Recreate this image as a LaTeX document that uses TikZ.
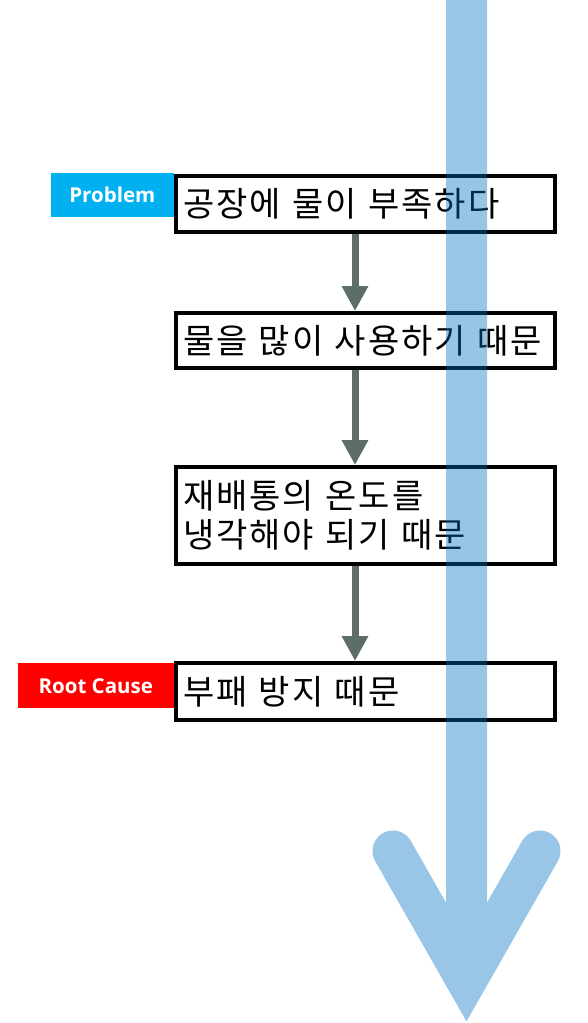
\documentclass[tikz,border=0pt]{standalone}
\usepackage{fontspec}
\setmainfont{Open Sans}
\newfontfamily\kr{Noto Sans CJK KR}[LetterSpace=6]
\usetikzlibrary{arrows.meta}
\definecolor{bigblue}{RGB}{0,112,192}
\definecolor{garr}{RGB}{93,110,105}
\definecolor{probc}{RGB}{0,176,240}
\definecolor{rootc}{RGB}{255,0,0}
\tikzset{
  stepbox/.style={draw=black, line width=4pt, fill=white, minimum width=379pt, inner xsep=7pt, text width=365pt, align=left, font=\kr\fontsize{34}{39}\selectfont},
  tag/.style={fill=#1, text=white, font=\bfseries\fontsize{20.5}{24}\selectfont, inner sep=0pt, anchor=north east},
  garrow/.style={draw=garr, line width=7pt, -{Triangle[length=25pt,width=25pt]}},
}
\begin{document}
\begin{tikzpicture}[x=1pt,y=-1pt]
\useasboundingbox (0,0) rectangle (588,1023);
% tags
\node[tag=probc, minimum width=123pt, minimum height=44pt] (p) at (174,173) {Problem};
\node[tag=rootc, minimum width=156pt, minimum height=45pt] (r) at (174,663) {Root Cause};
% boxes
\node[stepbox, minimum height=56pt] (b1) at (365.5,204) {공장에 물이 부족하다};
\node[stepbox, minimum height=55pt] (b2) at (365.5,340.5) {물을 많이 사용하기 때문};
\node[stepbox, minimum height=97pt] (b3) at (365.5,515.5) {재배통의 온도를\\냉각해야 되기 때문};
\node[stepbox, minimum height=57pt] (b4) at (365.5,691.5) {부패 방지 때문};
% connectors
\coordinate (ax) at (355,0);
\draw[garrow] (b1.south -| ax) -- (b2.north -| ax);
\draw[garrow] (b2.south -| ax) -- (b3.north -| ax);
\draw[garrow] (b3.south -| ax) -- (b4.north -| ax);
% big arrow
\coordinate (top) at (466.5,0);
\coordinate (tip) at (466.5,980);
\coordinate (la) at (393,851);
\coordinate (ra) at (540,851);
\begin{scope}[transparency group, opacity=0.4]
\draw[draw=bigblue, line width=41pt] (top) -- (tip);
\draw[draw=bigblue, line width=41pt, line join=miter, line cap=round]
  (la) -- (tip) -- (ra);
\end{scope}
\end{tikzpicture}
\end{document}
